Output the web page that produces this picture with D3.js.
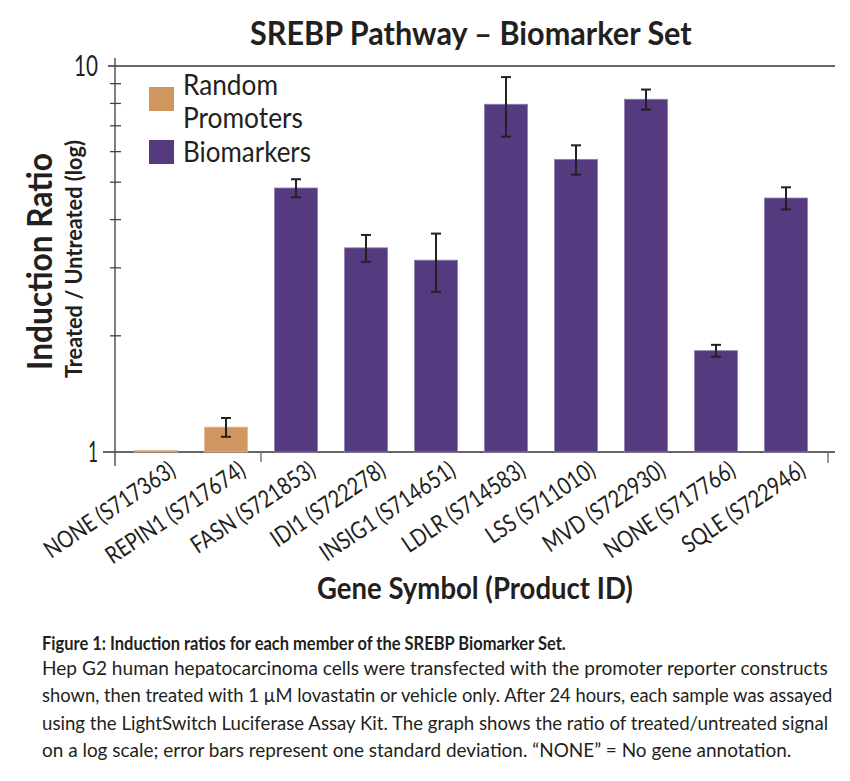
<!DOCTYPE html>
<html>
<head>
<meta charset="utf-8">
<script src="https://cdn.jsdelivr.net/npm/d3@7"></script>
<style>
body{margin:0;background:#fff;}
text{fill:#231f20;font-family:Lato,"Open Sans",sans-serif;}
</style>
</head>
<body>
<div id="chart"></div>
<script>
// data
var genes = ["NONE (S717363)","REPIN1 (S717674)","FASN (S721853)","IDI1 (S722278)","INSIG1 (S714651)","LDLR (S714583)","LSS (S711010)","MVD (S722930)","NONE (S717766)","SQLE (S722946)"];
var groups = ["random","random","bio","bio","bio","bio","bio","bio","bio","bio"];
var ratios = [1.01,1.16,4.83,3.38,3.14,7.96,5.73,8.2,1.83,4.55];
var sds = [0,0.065,0.26,0.27,0.54,1.4,0.5,0.49,0.065,0.3];
var legendLabels = [["Random","Promoters"],["Biomarkers"]];
var yTicks = [1,10];
var caption = [
 "Hep G2 human hepatocarcinoma cells were transfected with the promoter reporter constructs",
 "shown, then treated with 1 \u00b5M lovastatin or vehicle only. After 24 hours, each sample was assayed",
 "using the LightSwitch Luciferase Assay Kit. The graph shows the ratio of treated/untreated signal",
 "on a log scale; error bars represent one standard deviation. \u201cNONE\u201d = No gene annotation."
];

var width = 850, height = 781;
var colors = {random:"#d09660", bio:"#553a80"};

var svg = d3.select("#chart").append("svg")
  .attr("width", width).attr("height", height);

var x = d3.scaleBand().domain(genes).range([121, 821]).paddingInner(0.386).paddingOuter(0.193);
var y = d3.scaleLog().domain([1, 10]).range([452, 66]);

// put a text at (px,py), turned by rot, squeezed sideways to width w
function place(t, px, py, rot, w){
  var len = t.node().getComputedTextLength();
  var f = w ? w / len : 1;
  t.attr("transform", "translate(" + px + "," + py + ") rotate(" + rot + ") scale(" + f + ",1)");
  return t;
}

// title
place(svg.append("text").attr("font-size", 32).attr("font-weight","bold")
  .text("SREBP Pathway \u2013 Biomarker Set"), 250, 45, 0, 442);

// frame lines
svg.append("line").attr("x1",108).attr("x2",835).attr("y1",y(10)).attr("y2",y(10))
  .attr("stroke","#333").attr("stroke-width",1.5);
svg.append("line").attr("x1",103).attr("x2",835).attr("y1",y(1)).attr("y2",y(1))
  .attr("stroke","#333").attr("stroke-width",1.5);
svg.append("line").attr("x1",115).attr("x2",115).attr("y1",58).attr("y2",466)
  .attr("stroke","#555").attr("stroke-width",1.5);
var sep = (x(genes[1])+x.bandwidth()+x(genes[2]))/2;
svg.append("line").attr("x1",sep).attr("x2",sep)
  .attr("y1",y(1)).attr("y2",y(1)+10).attr("stroke","#777").attr("stroke-width",1.5);
svg.append("line").attr("x1",828).attr("x2",828).attr("y1",y(1)).attr("y2",y(1)+11)
  .attr("stroke","#777").attr("stroke-width",1.5);

// y axis minor ticks
var minor = d3.range(2, 10);
svg.selectAll(".minor").data(minor).enter().append("line")
  .attr("x1",110).attr("x2",121).attr("y1",function(d){return y(d);}).attr("y2",function(d){return y(d);})
  .attr("stroke","#444").attr("stroke-width",1.3);
svg.selectAll(".ylab").data(yTicks).enter().append("text")
  .attr("text-anchor","end").attr("font-size",28).text(function(d){return d;})
  .each(function(d){ place(d3.select(this), 98, y(d)+10, 0, d==10 ? 24 : 10); });

// bars
svg.selectAll(".bar").data(genes).enter().append("rect")
  .attr("x",function(d){return x(d);})
  .attr("width",x.bandwidth())
  .attr("y",function(d,i){return y(ratios[i]);})
  .attr("height",function(d,i){return Math.max(1.5, y(1)-y(ratios[i]));})
  .attr("fill",function(d,i){return colors[groups[i]];})
  .attr("stroke",function(d,i){return groups[i]=="bio"?"#8f7fb0":"#e2b88f";})
  .attr("stroke-width",0.8);

// error bars
var eb = svg.selectAll(".err").data(genes.filter(function(d,i){return sds[i]>0;})).enter().append("g")
  .attr("stroke","#222").attr("stroke-width",2);
eb.each(function(d){
  var i = genes.indexOf(d), cx = x(d)+x.bandwidth()/2;
  var g = d3.select(this);
  var y0 = y(ratios[i]+sds[i]), y1 = y(ratios[i]-sds[i]);
  g.append("line").attr("x1",cx).attr("x2",cx).attr("y1",y0).attr("y2",y1);
  g.append("line").attr("x1",cx-5).attr("x2",cx+5).attr("y1",y0).attr("y2",y0);
  g.append("line").attr("x1",cx-5).attr("x2",cx+5).attr("y1",y1).attr("y2",y1);
});

// x labels, all squeezed by the same factor
var xl = svg.selectAll(".xlab").data(genes).enter().append("text")
  .attr("text-anchor","end").attr("font-size",24)
  .text(function(d){return d;});
var xf = 152 / xl.node().getComputedTextLength();
xl.each(function(d){
  var t = d3.select(this);
  place(t, x(d)+x.bandwidth()/2+21, 474, -34, this.getComputedTextLength()*xf);
});

// axis titles
place(svg.append("text").attr("font-size",34).attr("font-weight","bold")
  .text("Induction Ratio"), 52, 370, -90, 217);
place(svg.append("text").attr("font-size",23).attr("font-weight","bold")
  .text("Treated / Untreated (log)"), 82, 378, -90, 238);
place(svg.append("text").attr("font-size",30).attr("font-weight","bold")
  .text("Gene Symbol (Product ID)"), 317, 599, 0, 316);

// legend
var lg = svg.append("g");
lg.append("rect").attr("x",149).attr("y",87).attr("width",25).attr("height",24).attr("fill",colors.random);
lg.append("rect").attr("x",149).attr("y",140).attr("width",25).attr("height",24).attr("fill",colors.bio);
place(lg.append("text").attr("font-size",28).text(legendLabels[0][0]), 183, 95, 0, 95);
place(lg.append("text").attr("font-size",28).text(legendLabels[0][1]), 183, 128, 0, 120);
place(lg.append("text").attr("font-size",28).text(legendLabels[1][0]), 183, 162, 0, 128);

// caption
place(svg.append("text").attr("font-size",18.5).attr("font-weight","bold")
  .text("Figure 1:  Induction ratios for each member of the SREBP Biomarker Set."), 42, 650, 0, 524);
var capW = [786, 791, 787, 750];
svg.selectAll(".cap").data(caption).enter().append("text")
  .attr("font-size",18.5)
  .text(function(d){return d;})
  .each(function(d,i){ place(d3.select(this), 42, 675+i*27.3, 0, capW[i]); });
</script>
</body>
</html>
